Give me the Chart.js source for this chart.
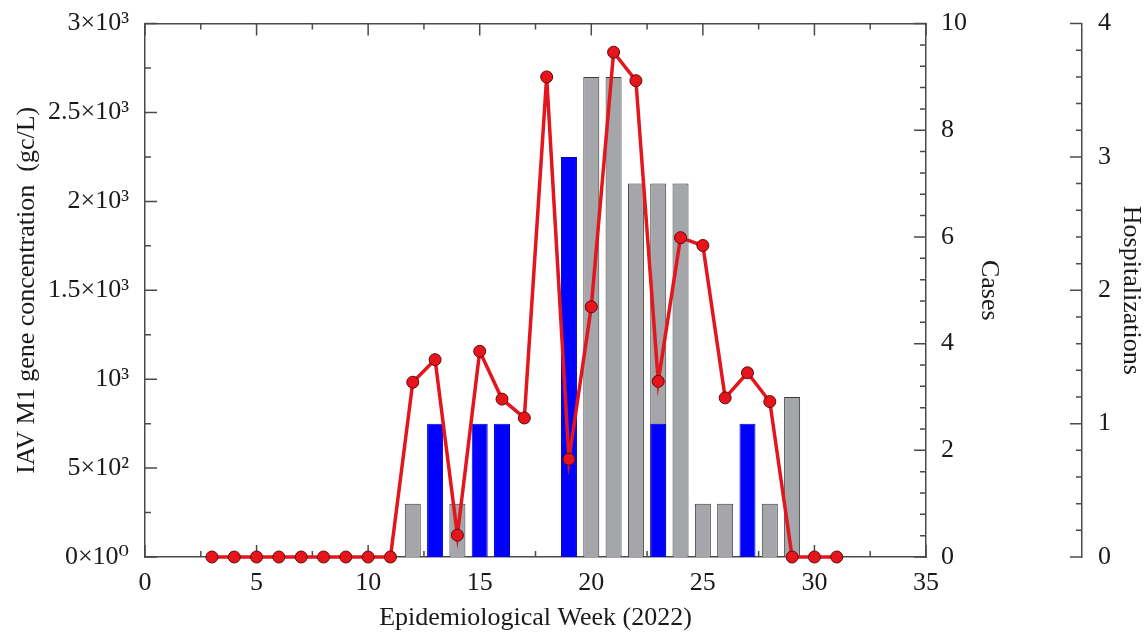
<!DOCTYPE html>
<html>
<head>
<meta charset="utf-8">
<script src="https://cdn.jsdelivr.net/npm/chart.js@4"></script>
<style>
  body { margin: 0; background: #fff; }
  #wrap { width: 1148px; height: 634px; }
</style>
</head>
<body>
<div id="wrap"><canvas id="myChart"></canvas></div>
<script>
// epidemiological weeks 3..31 of 2022
const weeks = [3, 4, 5, 6, 7, 8, 9, 10, 11, 12, 13, 14, 15, 16, 17, 18, 19, 20, 21, 22, 23, 24, 25, 26, 27, 28, 29, 30, 31];
// IAV M1 gene concentration (gc/L)
const concentration = [0, 0, 0, 0, 0, 0, 0, 0, 0, 983, 1110, 123, 1157, 888, 782, 2700, 550, 1407, 2839, 2679, 988, 1796, 1752, 895, 1036, 874, 0, 0, 0];
// reported cases and hospitalizations per week
const cases = [0, 0, 0, 0, 0, 0, 0, 0, 0, 1, 0, 1, 0, 0, 0, 0, 0, 9, 9, 7, 7, 7, 1, 1, 0, 1, 3, 0, 0];
const hospitalizations = [0, 0, 0, 0, 0, 0, 0, 0, 0, 0, 1, 0, 1, 1, 0, 0, 3, 0, 0, 0, 1, 0, 0, 0, 1, 0, 0, 0, 0];

// tick labels of the concentration axis, every 500
const concTickLabels = ['0×10⁰', '5×10²', '10³', '1.5×10³', '2×10³', '2.5×10³', '3×10³'];

const FONT = "'Liberation Serif', 'DejaVu Serif', serif";
const AXIS_COLOR = '#4a4a4a';
const TEXT_COLOR = '#1a1a1a';

function isMajor(v, step) {
  return Math.abs(v / step - Math.round(v / step)) < 1e-6;
}

// inward major/minor tick marks, like the original plot
const tickSetup = {
  x: { major: 5, dir: -1 },
  xTop: { major: 5, dir: 1 },
  y: { major: 500, dir: 1 },
  cases: { major: 2, dir: -1 },
  hosp: { major: 1, dir: -1 }
};
const tickMarks = {
  id: 'tickMarks',
  beforeDatasetsDraw(chart) {
    const ctx = chart.ctx;
    ctx.save();
    ctx.strokeStyle = AXIS_COLOR;
    ctx.lineWidth = 1.5;
    ctx.beginPath();
    for (const id in tickSetup) {
      const s = chart.scales[id];
      const set = tickSetup[id];
      s.ticks.forEach(t => {
        const len = isMajor(t.value, set.major) ? 12 : 6;
        const p = s.getPixelForValue(t.value);
        if (s.isHorizontal()) {
          const y0 = s.position === 'bottom' ? s.top : s.bottom;
          ctx.moveTo(p, y0);
          ctx.lineTo(p, y0 + set.dir * len);
        } else {
          const x0 = s.position === 'left' ? s.right : s.left;
          ctx.moveTo(x0, p);
          ctx.lineTo(x0 + set.dir * len, p);
        }
      });
    }
    ctx.stroke();
    ctx.restore();
  }
};

function axisBase(extra) {
  return Object.assign({
    grid: { display: false },
    border: { display: true, color: AXIS_COLOR, width: 1.5 }
  }, extra);
}

const tickFont = { family: FONT, size: 26 };
const titleFont = { family: FONT, size: 26 };

var ctx = document.getElementById('myChart');
var chart = new Chart(ctx, {
  type: 'bar',
  data: {
    datasets: [{
      type: 'line',
      label: 'IAV M1',
      data: weeks.map((w, i) => ({ x: w, y: concentration[i] })),
      yAxisID: 'y',
      borderColor: '#e2161c',
      borderWidth: 3.5,
      pointRadius: 6,
      pointBackgroundColor: '#e8141b',
      pointBorderColor: '#5c0a0a',
      pointBorderWidth: 1,
      tension: 0,
      clip: false,
      order: 0
    }, {
      label: 'Hospitalizations',
      data: weeks.map((w, i) => ({ x: w, y: hospitalizations[i] })).filter(d => d.y > 0),
      yAxisID: 'hosp',
      backgroundColor: '#0000ff',
      borderColor: '#0000c8',
      borderWidth: 1,
      grouped: false,
      maxBarThickness: 16,
      order: 1
    }, {
      label: 'Cases',
      data: weeks.map((w, i) => ({ x: w, y: cases[i] })).filter(d => d.y > 0),
      yAxisID: 'cases',
      backgroundColor: '#a4a6a9',
      borderColor: '#3a3a3a',
      borderWidth: 1,
      grouped: false,
      maxBarThickness: 16,
      order: 2
    }]
  },
  plugins: [tickMarks],
  options: {
    responsive: true,
    maintainAspectRatio: false,
    animation: false,
    layout: { padding: 0 },
    plugins: { legend: { display: false }, tooltip: { enabled: false } },
    scales: {
      x: axisBase({
        type: 'linear',
        position: 'bottom',
        offset: false,
        min: 0,
        max: 35,
        ticks: {
          stepSize: 2.5,
          autoSkip: false,
          maxRotation: 0,
          padding: 3,
          color: TEXT_COLOR,
          font: tickFont,
          callback: v => isMajor(v, 5) ? String(v) : ''
        },
        title: { display: true, text: 'Epidemiological Week (2022)', color: TEXT_COLOR, font: titleFont, padding: { top: 0, bottom: 0 } },
        afterFit: s => { s.height = 77; }
      }),
      xTop: axisBase({
        type: 'linear',
        position: 'top',
        offset: false,
        min: 0,
        max: 35,
        ticks: { stepSize: 2.5, display: false, autoSkip: false },
        afterFit: s => { s.height = 22; }
      }),
      y: axisBase({
        position: 'left',
        min: 0,
        max: 3000,
        ticks: {
          stepSize: 250,
          autoSkip: false,
          padding: 8,
          color: TEXT_COLOR,
          font: tickFont,
          callback: v => isMajor(v, 500) ? concTickLabels[Math.round(v / 500)] : ''
        },
        title: { display: true, text: 'IAV M1 gene concentration  (gc/L)', color: TEXT_COLOR, font: titleFont, padding: { top: 12, bottom: 0 } },
        afterFit: s => { s.width = 145; }
      }),
      cases: axisBase({
        position: 'right',
        min: 0,
        max: 10,
        ticks: {
          stepSize: 0.4,
          autoSkip: false,
          padding: 7,
          color: TEXT_COLOR,
          font: tickFont,
          callback: v => isMajor(v, 2) ? String(Math.round(v)) : ''
        },
        title: { display: true, text: 'Cases', color: TEXT_COLOR, font: titleFont, padding: { top: 78, bottom: 0 } },
        afterFit: s => { s.width = 156; }
      }),
      hosp: axisBase({
        position: 'right',
        min: 0,
        max: 4,
        ticks: {
          stepSize: 0.2,
          autoSkip: false,
          padding: 8,
          color: TEXT_COLOR,
          font: tickFont,
          callback: v => isMajor(v, 1) ? String(Math.round(v)) : ''
        },
        title: { display: true, text: 'Hospitalizations', color: TEXT_COLOR, font: titleFont, padding: { top: 2, bottom: 0 } },
        afterFit: s => { s.width = 66; }
      })
    }
  }
});
</script>
</body>
</html>
